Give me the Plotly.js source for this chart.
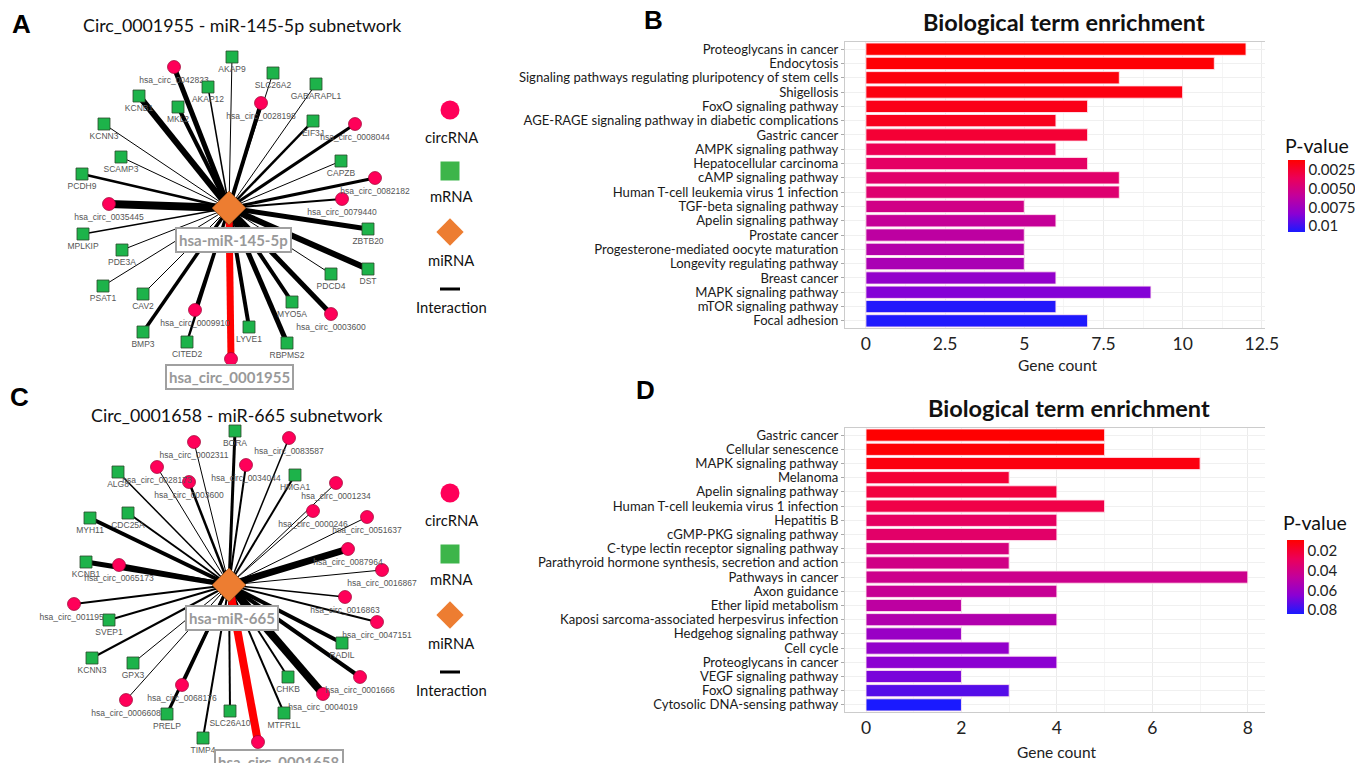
<!DOCTYPE html>
<html><head><meta charset="utf-8">
<script src="https://cdn.plot.ly/plotly-3.0.1.min.js"></script>
<style>html,body{margin:0;padding:0;background:#fff}#chart{width:1355px;height:763px}</style>
</head><body><div id="chart"></div>
<script>
// ---------- Panel B data ----------
const termsB = ["Proteoglycans in cancer","Endocytosis","Signaling pathways regulating pluripotency of stem cells","Shigellosis","FoxO signaling pathway","AGE-RAGE signaling pathway in diabetic complications","Gastric cancer","AMPK signaling pathway","Hepatocellular carcinoma","cAMP signaling pathway","Human T-cell leukemia virus 1 infection","TGF-beta signaling pathway","Apelin signaling pathway","Prostate cancer","Progesterone-mediated oocyte maturation","Longevity regulating pathway","Breast cancer","MAPK signaling pathway","mTOR signaling pathway","Focal adhesion"];
const countsB = [12,11,8,10,7,6,7,6,7,8,8,5,6,5,5,5,6,9,6,7];
const pvalB = [0.0012,0.0013,0.0015,0.0016,0.0018,0.0020,0.0026,0.0035,0.0040,0.0042,0.0044,0.0052,0.0058,0.0062,0.0066,0.0070,0.0080,0.0085,0.0106,0.0107];
const pTicksB = [0.0025,0.0050,0.0075,0.01];
const pTickTextB = ["0.0025","0.0050","0.0075","0.01"];

// ---------- Panel D data ----------
const termsD = ["Gastric cancer","Cellular senescence","MAPK signaling pathway","Melanoma","Apelin signaling pathway","Human T-cell leukemia virus 1 infection","Hepatitis B","cGMP-PKG signaling pathway","C-type lectin receptor signaling pathway","Parathyroid hormone synthesis, secretion and action","Pathways in cancer","Axon guidance","Ether lipid metabolism","Kaposi sarcoma-associated herpesvirus infection","Hedgehog signaling pathway","Cell cycle","Proteoglycans in cancer","VEGF signaling pathway","FoxO signaling pathway","Cytosolic DNA-sensing pathway"];
const countsD = [5,5,7,3,4,5,4,4,3,3,8,4,2,4,2,3,4,2,3,2];
const pvalD = [0.009,0.010,0.012,0.020,0.022,0.024,0.030,0.032,0.038,0.040,0.042,0.044,0.048,0.052,0.060,0.062,0.064,0.068,0.074,0.084];
const pTicksD = [0.02,0.04,0.06,0.08];
const pTickTextD = ["0.02","0.04","0.06","0.08"];

// ---------- Network A (Circ_0001955 - miR-145-5p) ----------
const hubA = "hsa-miR-145-5p";
const keyCircA = "hsa_circ_0001955";
const namesA = ["hsa_circ_0042823","AKAP9","SLC26A2","GABARAPL1","AKAP12","KCNB1","MKL2","hsa_circ_0028198","KCNN3","EIF3J","hsa_circ_0008044","SCAMP3","CAPZB","PCDH9","hsa_circ_0082182","hsa_circ_0035445","hsa_circ_0079440","MPLKIP","PDE3A","ZBTB20","PSAT1","CAV2","DST","PDCD4","MYO5A","hsa_circ_0003600","hsa_circ_0009910","BMP3","CITED2","LYVE1","RBPMS2","hsa_circ_0001955"];
const typesA = ["c","m","m","m","m","m","m","c","m","m","c","m","m","m","c","c","c","m","m","m","m","m","m","m","m","c","c","m","m","m","m","c"];
const weightsA = [5,1,1,1,1.5,6,4,4,1,2.5,3,1,1,2.5,3,8,2,1.5,1,5,1,1,6,1,4,5,3,3.5,2.5,4,5,7];
// layout coordinates of the network drawing
const posXA = [174,232,273,316,208,139,178,261,104,313,355,121,341,82,375,109,342,83,122,368,103,143,368,331,292,331,195,143,187,249,287,231];
const posYA = [67,57,73,84,87,96,107,103,124,121,124,157,161,174,178,204,199,234,250,229,286,294,269,274,302,314,310,332,342,327,343,359];
const hubPosA = [229,208];

// ---------- Network C (Circ_0001658 - miR-665) ----------
const hubC = "hsa-miR-665";
const keyCircC = "hsa_circ_0001658";
const namesC = ["BORA","hsa_circ_0002311","hsa_circ_0083587","hsa_circ_0028173","hsa_circ_0034044","ALG8","hsa_circ_0003600","HMGA1","hsa_circ_0001234","MYH11","CDC25A","hsa_circ_0000246","hsa_circ_0051637","hsa_circ_0087964","hsa_circ_0016867","KCNB1","hsa_circ_0065173","hsa_circ_0011950","SVEP1","hsa_circ_0016863","hsa_circ_0047151","RADIL","KCNN3","GPX3","hsa_circ_0001666","CHKB","hsa_circ_0068176","hsa_circ_0004019","hsa_circ_0006608","PRELP","SLC26A10","MTFR1L","TIMP4","hsa_circ_0001658"];
const typesC = ["m","c","c","c","c","m","c","m","c","m","m","c","c","c","c","m","c","c","m","c","c","m","m","m","c","m","c","c","c","m","m","m","m","c"];
const weightsC = [3,1,1.5,1,2,1.5,2.5,2,1,4,2,1,1,7,1,5,4,2,2,1.5,2,4,2,1,4,2,3,8,1,3,2,2,2,8];
const posXC = [235,194,289,157,246,118,189,295,336,90,128,313,367,348,382,86,119,74,109,345,377,342,92,133,360,288,182,323,126,167,230,284,203,258];
const posYC = [431,442,438,467,465,472,482,475,483,518,513,511,517,549,570,562,565,604,620,597,622,643,658,663,677,677,685,694,700,714,711,713,738,742];
const hubPosC = [229,585];

// ---------- styles ----------
const CIRC_COLOR = "#FF0059", MRNA_COLOR = "#1DB34A", MIRNA_COLOR = "#ED7D31";
const LABEL_FONT = {family:"Liberation Sans, Arial, sans-serif", size:8.5, color:"#555"};
const UI_FONT = "Lato, Open Sans, sans-serif";
const colorscale = [[0,"#1A1AFF"],[0.25,"#8A00D4"],[0.5,"#C2009C"],[0.75,"#EC0058"],[1,"#FF0000"]];

const traces = [];

function addNetwork(names, types, weights, xs, ys, hub, keyCirc){
  names.forEach((n,i)=>{
    traces.push({type:"scatter", mode:"lines", x:[hub[0], xs[i]], y:[hub[1], ys[i]],
      line:{color: n===keyCirc ? "#FF0000" : "#000", width: weights[i]},
      xaxis:"x", yaxis:"y", hoverinfo:"skip", showlegend:false});
  });
  const ci = names.map((n,i)=>i).filter(i=>types[i]==="c");
  traces.push({type:"scatter", mode:"markers+text",
    x: ci.map(i=>xs[i]), y: ci.map(i=>ys[i]),
    text: ci.map(i=> names[i]===keyCirc ? "" : names[i]),
    textposition:"bottom center", textfont:LABEL_FONT,
    marker:{symbol:"circle", size:13, color:CIRC_COLOR, line:{color:"#9a0030", width:0.7}},
    xaxis:"x", yaxis:"y", hoverinfo:"skip", showlegend:false, cliponaxis:false});
  const mi = names.map((n,i)=>i).filter(i=>types[i]==="m");
  traces.push({type:"scatter", mode:"markers+text",
    x: mi.map(i=>xs[i]), y: mi.map(i=>ys[i]),
    text: mi.map(i=>names[i]),
    textposition:"bottom center", textfont:LABEL_FONT,
    marker:{symbol:"square", size:12, color:MRNA_COLOR, line:{color:"#2b4a2b", width:0.8}},
    xaxis:"x", yaxis:"y", hoverinfo:"skip", showlegend:false, cliponaxis:false});
  traces.push({type:"scatter", mode:"markers", x:[hub[0]], y:[hub[1]],
    marker:{symbol:"diamond", size:26, color:MIRNA_COLOR, line:{color:"#8a4a1a", width:0.8}},
    xaxis:"x", yaxis:"y", hoverinfo:"skip", showlegend:false, cliponaxis:false});
}
addNetwork(namesA, typesA, weightsA, posXA, posYA, hubPosA, keyCircA);
addNetwork(namesC, typesC, weightsC, posXC, posYC, hubPosC, keyCircC);

// network legends (glyphs)
function addLegend(y0){
  traces.push({type:"scatter", mode:"markers", x:[450], y:[y0], marker:{symbol:"circle", size:19, color:CIRC_COLOR}, xaxis:"x", yaxis:"y", hoverinfo:"skip", showlegend:false});
  traces.push({type:"scatter", mode:"markers", x:[450], y:[y0+61], marker:{symbol:"square", size:19, color:"#3DB54A"}, xaxis:"x", yaxis:"y", hoverinfo:"skip", showlegend:false});
  traces.push({type:"scatter", mode:"markers", x:[450], y:[y0+122], marker:{symbol:"diamond", size:21, color:MIRNA_COLOR}, xaxis:"x", yaxis:"y", hoverinfo:"skip", showlegend:false});
  traces.push({type:"scatter", mode:"lines", x:[440,460], y:[y0+179,y0+179], line:{color:"#000", width:3}, xaxis:"x", yaxis:"y", hoverinfo:"skip", showlegend:false});
}
addLegend(110);
addLegend(493);

function barTrace(terms, counts, pvals, cmin, cmax, ticks, tickText, xa, ya, cbX, cbY, cbLen){
  return {type:"bar", orientation:"h", x:counts, y:terms, xaxis:xa, yaxis:ya,
    marker:{color:pvals.map(v=>-v), colorscale:colorscale, cmin:-cmax, cmax:-cmin,
      line:{color:"rgba(255,230,240,0.9)", width:1},
      colorbar:{x:cbX, xanchor:"left", xref:"paper", xpad:0, ypad:0, y:cbY, yanchor:"middle", yref:"paper",
        len:cbLen, lenmode:"pixels", thickness:17, outlinewidth:0, ticks:"",
        tickvals:ticks.map(v=>-v), ticktext:tickText,
        tickfont:{family:UI_FONT, size:15, color:"#222"}}},
    hoverinfo:"skip", showlegend:false};
}
traces.push(barTrace(termsB, countsB, pvalB, 0.00116, 0.0108, pTicksB, pTickTextB, "x2", "y2", 1288/1355, 1-196/763, 72));
traces.push(barTrace(termsD, countsD, pvalD, 0.0087, 0.084, pTicksD, pTickTextD, "x3", "y3", 1287/1355, 1-577/763, 74));

function P(x){return x/1355;} function Q(y){return 1-y/763;}
const catAxis = (dom, anchor)=>({domain:dom, anchor:anchor, type:"category", autorange:"reversed",
  tickmode:"linear", tick0:0, dtick:1,
  showgrid:true, gridcolor:"#F0F0F0", ticks:"outside", ticklen:3, tickcolor:"#AAA",
  tickfont:{family:UI_FONT, size:13.1, color:"#1a1a1a"}, showline:true, linecolor:"#CCC", automargin:false, fixedrange:true});
const numAxis = (dom, anchor, range, dtick)=>({domain:dom, anchor:anchor, range:range, tick0:0, dtick:dtick,
  showgrid:true, gridcolor:"#EBEBEB", zeroline:false, ticks:"", showline:true, linecolor:"#CCC", mirror:true,
  minor:{dtick:dtick/2, showgrid:true, gridcolor:"#F5F5F5"},
  tickfont:{family:UI_FONT, size:17.5, color:"#222"}, automargin:false, fixedrange:true});

const ann = [];
function txt(x,y,t,font,extra){ ann.push(Object.assign({xref:"paper", yref:"paper", x:P(x), y:Q(y), text:t, showarrow:false, xanchor:"center", yanchor:"middle", font:font}, extra||{})); }
const letterFont = {family:"Liberation Sans, Arial, sans-serif", size:26, color:"#000", weight:"bold"};
txt(21,24,"<b>A</b>",letterFont); txt(653,20,"<b>B</b>",letterFont);
txt(19,397,"<b>C</b>",letterFont); txt(645,390,"<b>D</b>",letterFont);
const titleFont = {family:UI_FONT, size:17.8, color:"#111"};
txt(242,25,"Circ_0001955 - miR-145-5p subnetwork",titleFont);
txt(236,415,"Circ_0001658 - miR-665 subnetwork",titleFont);
const bigTitle = {family:UI_FONT, size:23.5, color:"#111"};
txt(1064,22,"<b>Biological term enrichment</b>",bigTitle);
txt(1069,408,"<b>Biological term enrichment</b>",bigTitle);
const axTitle = {family:UI_FONT, size:15.5, color:"#222"};
txt(1057,365,"Gene count",axTitle); txt(1056,752,"Gene count",axTitle);
const pvFont = {family:UI_FONT, size:19.5, color:"#111"};
txt(1283,145,"P-value",pvFont,{xanchor:"left"}); txt(1281,522,"P-value",pvFont,{xanchor:"left"});
const legFont = {family:UI_FONT, size:14.8, color:"#111"};
[110,493].forEach((y0)=>{
  txt(451,y0+27,"circRNA",legFont);
  txt(451,y0+86,"mRNA",legFont);
  txt(451,y0+150,"miRNA",legFont);
  txt(451,y0+197,"Interaction",legFont);
});
// boxed node labels
const boxFont = {family:UI_FONT, size:15, color:"#999", weight:"bold"};
function boxLabel(x,y,t){ ann.push({xref:"x", yref:"y", x:x, y:y, text:"<b>"+t+"</b>", showarrow:false, font:boxFont,
  bgcolor:"#fff", bordercolor:"#A0A0A0", borderwidth:2, borderpad:2, xanchor:"center", yanchor:"middle"}); }
boxLabel(233,240,hubA); boxLabel(229,377,keyCircA);
boxLabel(232,618,hubC); boxLabel(279,762,keyCircC);

const layout = {
  width:1355, height:763, margin:{l:0,r:0,t:0,b:0}, paper_bgcolor:"#fff", plot_bgcolor:"rgba(0,0,0,0)",
  showlegend:false, bargap:0.14, font:{family:UI_FONT},
  xaxis:{domain:[0,520/1355], range:[0,520], visible:false, fixedrange:true},
  yaxis:{domain:[0,1], range:[763,0], visible:false, fixedrange:true},
  xaxis2: numAxis([P(845),P(1265)], "y2", [-0.66,12.6], 2.5),
  yaxis2: catAxis([Q(328),Q(42)], "x2"),
  xaxis3: numAxis([P(845),P(1265)], "y3", [-0.44,8.36], 2),
  yaxis3: catAxis([Q(712),Q(428)], "x3"),
  annotations: ann
};
Plotly.newPlot("chart", traces, layout, {staticPlot:true, displayModeBar:false});
</script></body></html>
